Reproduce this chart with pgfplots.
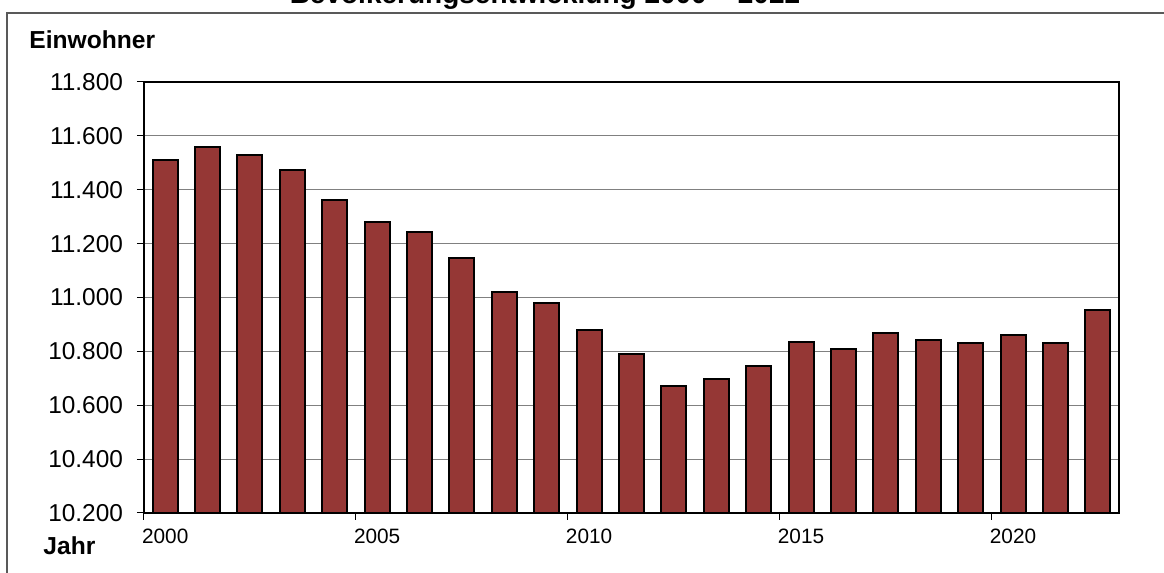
\documentclass[border=0pt]{standalone}
\usepackage{fontspec}
\setmainfont{Liberation Sans}
\usepackage{pgfplots}
\pgfplotsset{compat=1.18}
\definecolor{barred}{RGB}{149,55,53}

\begin{document}
\begin{tikzpicture}
\begin{axis}[
  name=ax, at={(0,0)}, anchor=south west,
  scale only axis, width=487.5pt, height=215.5pt,
  ybar, bar width=12.5pt,
  enlargelimits=false,
  xmin=-0.5, xmax=22.5, ymin=10200, ymax=11800,
  ytick={10200,10400,...,11800},
  scaled y ticks=false,
  xtick={-0.5,4.5,9.5,14.5,19.5},
  xticklabels={2000,2005,2010,2015,2020},
  xtick pos=lower, ytick pos=left,
  xticklabel style={xshift=10.6pt, yshift=-1pt, font=\fontsize{10.4}{12}\selectfont},
  yticklabel style={font=\fontsize{12.2}{14}\selectfont, xshift=-3.5pt},
  tick align=outside, major tick length=3.5pt,
  tick style={black, line width=0.5pt},
  ymajorgrids, grid style={black!50, line width=0.6pt},
  axis line style={line width=0.6pt},
  /pgf/number format/fixed,
  /pgf/number format/1000 sep={.},
  /pgf/number format/assume math mode=true,
]
\addplot[fill=barred, draw=black, line width=1pt] coordinates {
(0,11511) (1,11558) (2,11528) (3,11474) (4,11363) (5,11280) (6,11243)
(7,11148) (8,11019) (9,10978) (10,10880) (11,10789) (12,10670) (13,10696)
(14,10747) (15,10836) (16,10807) (17,10869) (18,10843) (19,10830)
(20,10859) (21,10831) (22,10953)
};
\end{axis}
\node[anchor=base west, inner sep=0pt, font=\bfseries\fontsize{12.3}{14}\selectfont] at (-57.5pt,232pt) {Einwohner};
\node[anchor=base west, inner sep=0pt, font=\bfseries\fontsize{12.3}{14}\selectfont] at (-50.5pt,-21pt) {Jahr};
\node[anchor=base, inner sep=0pt, font=\bfseries\fontsize{14}{16}\selectfont] at (200.5pt,254.5pt) {Bevölkerungsentwicklung 2000 – 2022};
\draw[black!65, line width=0.75pt] (-68.5pt,-40pt) rectangle (520pt,250pt);
\pgfresetboundingbox
\useasboundingbox (-72pt,-30pt) rectangle (510pt,256.5pt);
\end{tikzpicture}
\end{document}
